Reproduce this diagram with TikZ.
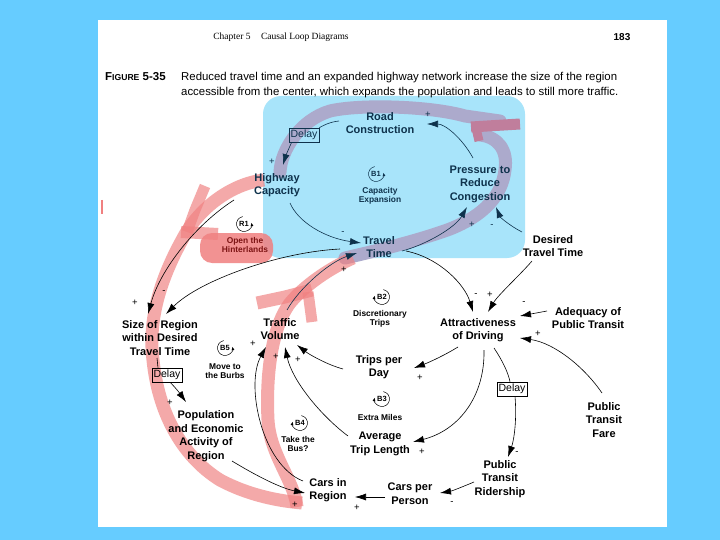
\documentclass[tikz,border=0pt]{standalone}
\usepackage{fontspec}
\setmainfont{Liberation Sans}
\newfontfamily\headserif{Liberation Serif}
\usetikzlibrary{arrows.meta,calc}
\definecolor{pagebg}{RGB}{102,204,255}
\definecolor{boxblue}{RGB}{168,228,250}
\definecolor{hlgrey}{RGB}{172,170,204}
\definecolor{hlpink}{RGB}{240,128,128}
\definecolor{hlmauve}{RGB}{192,126,156}
\definecolor{navy}{RGB}{14,50,76}
\definecolor{darkred}{RGB}{125,20,20}
\pgfdeclarelayer{bg}
\pgfdeclarelayer{hl}
\pgfsetlayers{bg,hl,main}
\begin{document}
\begin{tikzpicture}[x=1pt,y=1pt,
 var/.style={font=\bfseries\fontsize{11}{13.6}\selectfont, align=center, inner sep=1pt},
 small/.style={font=\bfseries\fontsize{8.4}{9.6}\selectfont, align=center, inner sep=0.5pt},
 looplbl/.style={font=\bfseries\fontsize{7.5}{8}\selectfont, inner sep=0pt},
 pol/.style={font=\fontsize{9.5}{10}\selectfont, inner sep=0pt},
 delaybox/.style={draw, line width=0.6pt, font=\fontsize{10.5}{12}\selectfont, inner sep=1.6pt, minimum height=14pt},
 link/.style={line width=0.6pt, -{Latex[length=11pt,width=7pt]}},
 plain/.style={line width=0.6pt},
 looparc/.style={line width=0.5pt, -{Latex[length=3.5pt,width=3pt]}},
 hlg/.style={line width=13pt, draw=hlgrey, line cap=round, line join=round},
 hlp/.style={line width=13pt, draw=hlpink, draw opacity=0.67, line join=round},
]
\useasboundingbox (0,0) rectangle (720,-540);
\begin{pgfonlayer}{bg}
 \fill[pagebg] (0,0) rectangle (720,-540);
 \fill[white] (98,-20) rectangle (667,-527);
 \fill[boxblue, rounded corners=18pt] (263,-96) rectangle (525,-258);
\end{pgfonlayer}

\begin{pgfonlayer}{hl}
 % grey loop B1
 \draw[hlg] (280,-172) .. controls (281,-150) and (300,-120) .. (330,-111)
   .. controls (360,-104) and (430,-106) .. (465,-116) -- (500,-121);
 \draw[hlg] (480,-135) .. controls (498,-137) and (508,-150) .. (505,-170)
   .. controls (502,-195) and (485,-215) .. (450,-229)
   .. controls (420,-240) and (380,-250) .. (345,-258);
 \draw[line width=11pt, draw=hlmauve] (471,-127) -- (520,-124);
 \draw[line width=9pt, draw=hlmauve] (476,-128) -- (479,-141);
 % pink R1 band
 \draw[hlp] (264,-180) .. controls (235,-183) and (200,-205) .. (182,-240)
   .. controls (160,-280) and (148,-320) .. (153,-360)
   .. controls (158,-410) and (180,-455) .. (220,-480)
   .. controls (250,-496) and (280,-501) .. (302,-503);
 \draw[hlp] (297,-507) .. controls (294,-480) and (270,-455) .. (268,-420)
   .. controls (266,-380) and (270,-330) .. (290,-303)
   .. controls (305,-285) and (330,-268) .. (353,-258);
 \draw[hlp] (257,-303) -- (285,-297) -- (312,-290);
 \draw[hlp, line width=11pt] (308,-292) -- (312,-322);
 \draw[hlp, line width=11pt] (205,-186) -- (195,-210) -- (187,-232);
 \draw[hlp, line width=12pt] (181,-232) -- (218,-234);
 \fill[hlpink, fill opacity=0.85, rounded corners=12pt] (200,-233) rectangle (273,-263);
 \draw[hlpink, line width=1.5pt] (102,-200) -- (102,-214);
\end{pgfonlayer}

% header and caption
\node[font=\headserif\fontsize{9.5}{11}\selectfont, inner sep=0pt] (hdr) at (281,-37) {Chapter 5\hspace{1.1em}Causal Loop Diagrams};
\node[font=\bfseries\fontsize{10}{11}\selectfont, inner sep=0pt] (pg) at (622,-37) {183};
\node[anchor=base west, inner sep=0pt] (fig) at (105,-81) {\bfseries\fontsize{11.5}{12}\selectfont F\fontsize{8.6}{10}\selectfont IGURE\fontsize{11.5}{12}\selectfont\ 5-35};
\node[anchor=base west, inner sep=0pt, font=\fontsize{11.4}{12}\selectfont] (cap1) at (181,-81) {Reduced travel time and an expanded highway network increase the size of the region};
\node[anchor=base west, inner sep=0pt, font=\fontsize{11.4}{12}\selectfont] (cap2) at (181,-96) {accessible from the center, which expands the population and leads to still more traffic.};

% variables
\node[var,text=navy] (rc) at (380,-123) {Road\\Construction};
\node[var,text=navy] (hc) at (277,-185) {Highway\\Capacity};
\node[var,text=navy] (pc) at (480,-184) {Pressure to\\Reduce\\Congestion};
\node[var,text=navy] (tt) at (379,-247) {Travel\\Time};
\node[var] (dtt) at (553,-246) {Desired\\Travel Time};
\node[var] (sr) at (160,-338) {Size of Region\\within Desired\\Travel Time};
\node[var] (pe) at (206,-436) {Population\\and Economic\\Activity of\\Region};
\node[var] (tv) at (280,-329) {Traffic\\Volume};
\node[var] (tpd) at (379,-367) {Trips per\\Day};
\node[var] (atl) at (380,-444) {Average\\Trip Length};
\node[var] (cr) at (328,-490) {Cars in\\Region};
\node[var] (cpp) at (410,-494) {Cars per\\Person};
\node[var] (ad) at (478,-330) {Attractiveness\\of Driving};
\node[var] (apt) at (588,-318) {Adequacy of\\Public Transit};
\node[var] (ptf) at (604,-420) {Public\\Transit\\Fare};
\node[var] (ptr) at (500,-479) {Public\\Transit\\Ridership};

% delay boxes
\node[delaybox,draw=navy,text=navy] (d1) at (304,-135) {Delay};
\node[delaybox] (d2) at (167,-375) {Delay};
\node[delaybox] (d3) at (512,-389) {Delay};

% loop symbols
\node[looplbl,text=navy] (b1) at (376,-174) {B1};
\draw[looparc,navy] ($(b1)+(100:7.5)$) arc[start angle=100,end angle=370,radius=7.5];
\node[small,text=navy] (b1t) at (380,-196) {Capacity\\Expansion};
\node[looplbl] (r1) at (244,-224) {R1};
\draw[looparc] ($(r1)+(100:7.5)$) arc[start angle=100,end angle=370,radius=7.5];
\node[small,text=darkred] (r1t) at (245,-245) {Open the\\Hinterlands};
\node[looplbl] (b5) at (225,-348) {B5};
\draw[looparc] ($(b5)+(100:7.5)$) arc[start angle=100,end angle=370,radius=7.5];
\node[small] (b5t) at (225,-371) {Move to\\the Burbs};
\node[looplbl] (b2) at (382,-297) {B2};
\draw[looparc] ($(b2)+(80:7.5)$) arc[start angle=80,end angle=-190,radius=7.5];
\node[small] (b2t) at (380,-319) {Discretionary\\Trips};
\node[looplbl] (b3) at (382,-399) {B3};
\draw[looparc] ($(b3)+(80:7.5)$) arc[start angle=80,end angle=-190,radius=7.5];
\node[small] (b3t) at (380,-417) {Extra Miles};
\node[looplbl] (b4) at (300,-423) {B4};
\draw[looparc] ($(b4)+(80:7.5)$) arc[start angle=80,end angle=-190,radius=7.5];
\node[small] (b4t) at (298,-444) {Take the\\Bus?};

% connectors
\draw[plain,navy] ($(rc)+(-41,2)$) .. controls (330,-122) and (324,-125) .. (d1.north east);
\draw[link,navy] ($(d1.south west)+(3,0)$) .. controls (288,-150) and (285,-158) .. ($(hc)+(6,20)$);
\draw[link,navy] ($(pc)+(-7,26)$) .. controls (462,-138) and (445,-124) .. ($(rc)+(47,-1)$);
\draw[link,navy] ($(tt)+(23,-4)$) .. controls (425,-245) and (455,-228) .. ($(pc)+(-13,-23)$);
\draw[link,navy] ($(dtt)+(-31,14)$) .. controls (510,-226) and (500,-217) .. ($(pc)+(16,-23)$);
\draw[link,navy] ($(hc)+(13,-18)$) .. controls (298,-222) and (325,-238) .. ($(tt)+(-18,4)$);
\draw[link,navy] ($(tv)+(7,19)$) .. controls (300,-287) and (330,-262) .. ($(tt)+(-22,-6)$);
\draw[link] ($(tt)+(-39,-2)$) .. controls (280,-252) and (200,-280) .. ($(sr)+(6,24)$);
\draw[link] ($(hc)+(-43,-15)$) .. controls (195,-225) and (160,-270) .. ($(sr)+(-12,24)$);
\draw[plain] ($(sr)+(-3,-20)$) -- ($(d2.north)+(-9,0)$);
\draw[link] ($(d2.south)+(3,0)$) .. controls (176,-388) and (181,-395) .. ($(pe)+(-20,34)$);
\draw[link] ($(pe)+(26,-25)$) .. controls (255,-475) and (280,-488) .. ($(cr)+(-23,-3)$);
\draw[link] ($(cr)+(-25,9)$) .. controls (262,-465) and (245,-385) .. ($(tv)+(-14,-18)$);
\draw[link] ($(atl)+(-32,8)$) .. controls (320,-415) and (292,-380) .. ($(tv)+(5,-18)$);
\draw[link] ($(tpd)+(-36,-2)$) .. controls (328,-365) and (310,-355) .. ($(tv)+(17,-16)$);
\draw[link] ($(ad)+(-20,-17)$) .. controls (445,-355) and (430,-362) .. ($(tpd)+(35,-1)$);
\draw[link] ($(ad)+(6,-20)$) .. controls (485,-395) and (460,-430) .. ($(atl)+(33,2)$);
\draw[plain] ($(ad)+(16,-18)$) .. controls (502,-360) and (508,-372) .. ($(d3.north)+(-2,0)$);
\draw[link] ($(d3.south)+(3,0)$) .. controls (517,-420) and (514,-440) .. ($(ptr)+(8,22)$);
\draw[link] ($(ptr)+(-26,-3)$) .. controls (462,-487) and (452,-491) .. ($(cpp)+(30,1)$);
\draw[link] ($(cpp)+(-25,-3)$) -- ($(cr)+(27,-7)$);
\draw[link] ($(tt)+(27,-4)$) .. controls (440,-258) and (465,-285) .. ($(ad)+(-5,18)$);
\draw[link] ($(dtt)+(-21,-15)$) .. controls (520,-275) and (498,-295) .. ($(ad)+(10,18)$);
\draw[link] ($(apt)+(-41,7)$) -- ($(ad)+(42,14)$);
\draw[link] ($(ptf)+(-2,27)$) .. controls (585,-368) and (555,-343) .. ($(ad)+(42,-8)$);

% polarities
\node[pol,text=navy] (p1) at (272,-162) {+};
\node[pol,text=navy] (p2) at (428,-115) {+};
\node[pol,text=navy] (p3) at (472,-225) {+};
\node[pol,text=navy] (p4) at (492,-226) {-};
\node[pol,text=navy] (p5) at (343,-233) {-};
\node[pol] (p6) at (344,-270) {+};
\node[pol] (p7) at (135,-303) {+};
\node[pol] (p8) at (164,-292) {-};
\node[pol] (p9) at (170,-403) {+};
\node[pol] (p10) at (295,-505) {+};
\node[pol] (p11) at (253,-344) {+};
\node[pol] (p12) at (276,-357) {+};
\node[pol] (p13) at (298,-360) {+};
\node[pol] (p14) at (420,-378) {+};
\node[pol] (p15) at (422,-452) {+};
\node[pol] (p16) at (517,-453) {-};
\node[pol] (p17) at (452,-503) {-};
\node[pol] (p18) at (357,-508) {+};
\node[pol] (p19) at (476,-295) {-};
\node[pol] (p20) at (490,-295) {+};
\node[pol] (p21) at (524,-303) {-};
\node[pol] (p22) at (538,-334) {+};
\end{tikzpicture}
\end{document}
